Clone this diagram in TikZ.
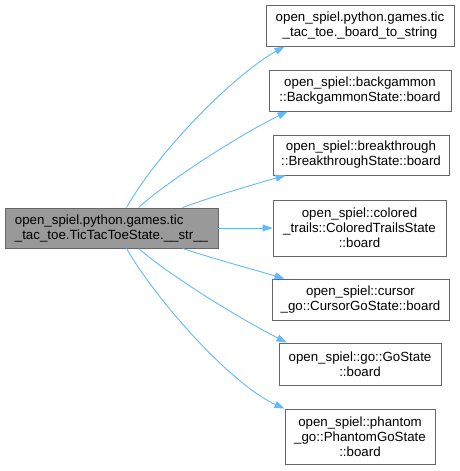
\documentclass[tikz,border=0pt]{standalone}
\usepackage{fontspec}
\setmainfont{Liberation Sans}
\usetikzlibrary{arrows.meta}
\definecolor{edgeblue}{HTML}{63B8FF}
\definecolor{boxline}{HTML}{666666}
\definecolor{srcfill}{HTML}{999999}
\begin{document}
\begin{tikzpicture}[x=1pt,y=-1pt,
  box/.style={draw=boxline, line width=0.9pt, fill=white, inner sep=0pt,
    align=center, font=\fontsize{13.3}{15}\selectfont, anchor=center},
  srcbox/.style={box, fill=srcfill, align=left},
  link/.style={draw=edgeblue, line width=0.9pt, -{Triangle[length=10pt,width=7pt]}}]
\useasboundingbox (0,0) rectangle (459,471);
\node[srcbox, minimum width=213pt, minimum height=40pt] (src) at (111.5,228)
  {open\_spiel.python.games.tic\\\_tac\_toe.TicTacToeState.\_\_str\_\_};
\node[box, minimum width=188pt, minimum height=41pt] (t1) at (360,25.5)
  {open\_spiel.python.games.tic\\\_tac\_toe.\_board\_to\_string};
\node[box, minimum width=182pt, minimum height=41pt] (t2) at (360,90.5)
  {open\_spiel::backgammon\\::BackgammonState::board};
\node[box, minimum width=176pt, minimum height=40pt] (t3) at (361,155)
  {open\_spiel::breakthrough\\::BreakthroughState::board};
\node[box, minimum width=173pt, minimum height=56pt] (t4) at (359.5,228)
  {open\_spiel::colored\\\_trails::ColoredTrailsState\\::board};
\node[box, minimum width=177pt, minimum height=41pt] (t5) at (360.5,299.5)
  {open\_spiel::cursor\\\_go::CursorGoState::board};
\node[box, minimum width=162pt, minimum height=42pt] (t6) at (360,364)
  {open\_spiel::go::GoState\\::board};
\node[box, minimum width=150pt, minimum height=55pt] (t7) at (360,436.5)
  {open\_spiel::phantom\\\_go::PhantomGoState\\::board};
% edges
\draw[link] ([xshift=122pt]src.north west) .. controls +(33,-58) and +(-50,28) .. ([xshift=19pt]t1.south west);
\draw[link] ([xshift=134pt]src.north west) .. controls +(31,-28) and +(-47,23) .. ([xshift=19pt]t2.south west);
\draw[link] ([xshift=178pt]src.north west) .. controls +(27,-10) and +(-36,10) .. ([xshift=13pt]t3.south west);
\draw[link] (src.east) -- (t4.west);
\draw[link] ([xshift=178pt]src.south west) .. controls +(27,9) and +(-35,-10) .. ([xshift=13pt]t5.north west);
\draw[link] ([xshift=134pt]src.south west) .. controls +(31,27) and +(-47,-24) .. ([xshift=8pt]t6.north west);
\draw[link] ([xshift=122pt]src.south west) .. controls +(33,57) and +(-50,-22) .. (t7.north west);
\end{tikzpicture}
\end{document}
